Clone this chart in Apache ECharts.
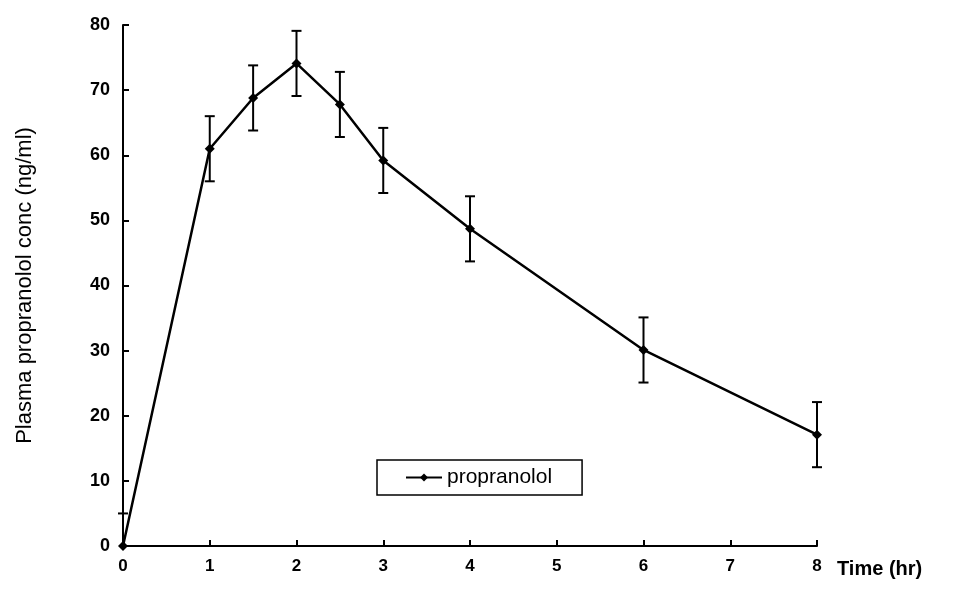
<!DOCTYPE html>
<html>
<head>
<meta charset="utf-8">
<script src="https://cdn.jsdelivr.net/npm/echarts@6/dist/echarts.min.js"></script>
<style>html,body{margin:0;padding:0;background:#fff}#c{width:962px;height:599px}</style>
</head>
<body>
<div id="c"></div>
<script>
const times = [0, 1, 1.5, 2, 2.5, 3, 4, 6, 8];
const conc = [0, 61, 68.8, 74.1, 67.8, 59.2, 48.7, 30.1, 17.1];
const sd = [5, 5, 5, 5, 5, 5, 5, 5, 5];
const xTicks = [0, 1, 2, 3, 4, 5, 6, 7, 8];
const yTicks = [0, 10, 20, 30, 40, 50, 60, 70, 80];
const seriesName = 'propranolol';

const lineData = times.map((t, i) => [t, conc[i]]);
const errData = times.map((t, i) => [t, conc[i] - sd[i], conc[i] + sd[i]]);

const chart = echarts.init(document.getElementById('c'));
chart.setOption({
  animation: false,
  backgroundColor: '#fff',
  grid: { left: 123, right: 145, top: 25, bottom: 53, containLabel: false, outerBoundsMode: 'none' },
  xAxis: {
    type: 'value', min: 0, max: 8, interval: 1,
    axisLine: { show: true, lineStyle: { color: '#000', width: 2 } },
    axisTick: { show: true, inside: true, length: 6, lineStyle: { color: '#000', width: 2 } },
    axisLabel: { color: '#000', fontSize: 17, fontWeight: 'bold', fontFamily: 'Liberation Sans', margin: 12,
      formatter: v => xTicks.includes(v) ? String(v) : '' },
    splitLine: { show: false },
    name: 'Time (hr)', nameLocation: 'end', nameGap: 20,
    nameTextStyle: { color: '#000', fontSize: 20, fontWeight: 'bold', fontFamily: 'Liberation Sans', verticalAlign: 'top', padding: [13, 0, 0, 0] }
  },
  yAxis: {
    type: 'value', min: 0, max: 80, interval: 10,
    axisLine: { show: true, lineStyle: { color: '#000', width: 2 } },
    axisTick: { show: true, inside: true, length: 6, lineStyle: { color: '#000', width: 2 } },
    axisLabel: { color: '#000', fontSize: 18, fontWeight: 'bold', fontFamily: 'Liberation Sans', margin: 13,
      formatter: v => yTicks.includes(v) ? String(v) : '' },
    splitLine: { show: false },
    name: 'Plasma propranolol conc (ng/ml)', nameLocation: 'middle', nameGap: 87, nameRotate: 90,
    nameTextStyle: { color: '#000', fontSize: 22, fontFamily: 'Liberation Sans' }
  },
  legend: {
    left: 377, top: 460, width: 220,
    data: [{ name: seriesName }],
    itemWidth: 36, itemHeight: 10,
    padding: [7, 30, 7, 28],
    borderColor: '#000', borderWidth: 1.5,
    textStyle: { color: '#000', fontSize: 21, fontFamily: 'Liberation Sans' }
  },
  series: [
    {
      type: 'custom',
      name: 'err',
      data: errData,
      z: 3,
      renderItem: function (params, api) {
        const x = api.value(0);
        const lo = api.coord([x, Math.max(0, api.value(1))]);
        const hi = api.coord([x, api.value(2)]);
        const hw = 5;
        const st = { stroke: '#000', lineWidth: 2 };
        const children = [
          { type: 'line', shape: { x1: hi[0], y1: hi[1], x2: lo[0], y2: lo[1] }, style: st },
          { type: 'line', shape: { x1: hi[0] - hw, y1: hi[1], x2: hi[0] + hw, y2: hi[1] }, style: st }
        ];
        if (api.value(1) > 0) {
          children.push({ type: 'line', shape: { x1: lo[0] - hw, y1: lo[1], x2: lo[0] + hw, y2: lo[1] }, style: st });
        }
        return { type: 'group', children: children };
      }
    },
    {
      type: 'line',
      name: seriesName,
      data: lineData,
      symbol: 'diamond',
      symbolSize: 10,
      lineStyle: { color: '#000', width: 2.5 },
      itemStyle: { color: '#000' },
      z: 4
    }
  ]
});
</script>
</body>
</html>
